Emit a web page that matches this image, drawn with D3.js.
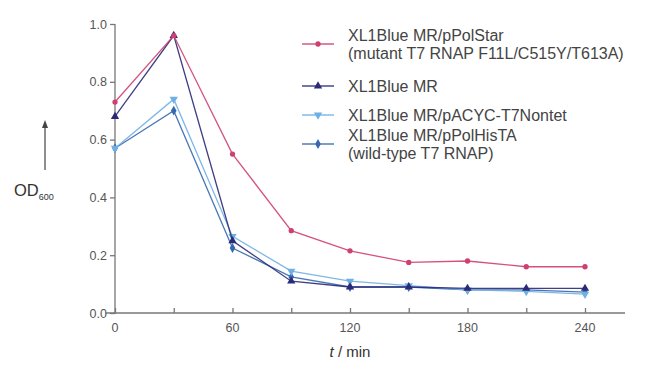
<!DOCTYPE html>
<html>
<head>
<meta charset="utf-8">
<script src="https://cdn.jsdelivr.net/npm/d3@7"></script>
<style>
  body { margin: 0; background: #fff; }
  text { font-family: "Liberation Sans", Arial, sans-serif; }
</style>
</head>
<body>
<div class="chart"></div>
<script>
const width = 645;
const height = 365;

// data
const times = [0, 30, 60, 90, 120, 150, 180, 210, 240];
const polStar = [0.73, 0.96, 0.55, 0.285, 0.215, 0.175, 0.18, 0.16, 0.16];
const blueMR = [0.68, 0.96, 0.25, 0.11, 0.09, 0.09, 0.085, 0.085, 0.085];
const acyc = [0.57, 0.74, 0.265, 0.145, 0.11, 0.095, 0.08, 0.075, 0.065];
const hisTA = [0.57, 0.70, 0.225, 0.125, 0.09, 0.09, 0.08, 0.08, 0.072];
const xTicks = [0, 30, 60, 90, 120, 150, 180, 210, 240];
const xLabels = [0, 60, 120, 180, 240];
const yTicks = [0, 0.2, 0.4, 0.6, 0.8, 1.0];

const series = [
  { name: ['XL1Blue MR/pPolStar', '(mutant T7 RNAP F11L/C515Y/T613A)'], values: polStar, color: '#cf3f6f', symbol: d3.symbolCircle, size: 22, rot: 0 },
  { name: ['XL1Blue MR'], values: blueMR, color: '#2b2a78', symbol: d3.symbolTriangle, size: 30, rot: 0 },
  { name: ['XL1Blue MR/pACYC-T7Nontet'], values: acyc, color: '#6fb0e4', symbol: d3.symbolTriangle, size: 30, rot: 180 },
  { name: ['XL1Blue MR/pPolHisTA', '(wild-type T7 RNAP)'], values: hisTA, color: '#3568ad', symbol: d3.symbolDiamond, size: 28, rot: 0 }
];

const svg = d3.select('.chart').append('svg')
  .attr('width', width)
  .attr('height', height);

const x = d3.scaleLinear().domain([0, 240]).range([115, 585]);
const y = d3.scaleLinear().domain([0, 1]).range([313, 24]);

const axisColor = '#777';
const labelColor = '#555';

// y axis
const yAxis = svg.append('g')
  .attr('transform', `translate(${x(0)},0)`)
  .call(d3.axisLeft(y).tickValues(yTicks).tickFormat(d3.format('.1f')).tickSize(5).tickPadding(3));
yAxis.select('.domain').attr('d', `M0,${y(0) + 1}V${y(1)}`);

// x axis, ticks point inward
const xAxis = svg.append('g')
  .attr('transform', `translate(0,${y(0)})`)
  .call(d3.axisTop(x).tickValues(xTicks).tickFormat('').tickSize(5));
xAxis.select('.domain').attr('d', `M${x(0) - 10},0H625`);

svg.append('g')
  .attr('transform', `translate(0,${y(0)})`)
  .selectAll('text')
  .data(xLabels)
  .join('text')
  .attr('x', d => x(d))
  .attr('y', 19)
  .attr('text-anchor', 'middle')
  .attr('font-size', 12.5)
  .attr('fill', labelColor)
  .text(d => d);

svg.selectAll('.domain, .tick line').attr('stroke', axisColor).attr('stroke-width', 1.3);
svg.selectAll('.tick text').attr('font-size', 12.5).attr('fill', labelColor);

// axis titles
const xt = svg.append('text')
  .attr('x', 350).attr('y', 357)
  .attr('text-anchor', 'middle')
  .attr('font-size', 15)
  .attr('fill', '#333');
xt.append('tspan').attr('font-style', 'italic').text('t');
xt.append('tspan').text(' / min');

const yt = svg.append('text')
  .attr('x', 14).attr('y', 196)
  .attr('font-size', 16.5)
  .attr('fill', '#333');
yt.append('tspan').text('OD');
yt.append('tspan').attr('font-size', 9).attr('dy', 4).text('600');

svg.append('line')
  .attr('x1', 45).attr('x2', 45).attr('y1', 170).attr('y2', 126)
  .attr('stroke', '#444').attr('stroke-width', 1.2);
svg.append('path')
  .attr('d', 'M42,128L45,120L48,128Z')
  .attr('fill', '#444');

// lines and markers
const line = d3.line().x((d, i) => x(times[i])).y(d => y(d));

series.slice().reverse().forEach(s => {
  svg.append('path')
    .attr('d', line(s.values))
    .attr('fill', 'none')
    .attr('stroke', s.color)
    .attr('stroke-width', 1.3)
    .attr('opacity', 0.9);
  svg.append('g').selectAll('path')
    .data(s.values)
    .join('path')
    .attr('transform', (d, i) => `translate(${x(times[i])},${y(d)}) rotate(${s.rot})`)
    .attr('d', d3.symbol().type(s.symbol).size(s.size))
    .attr('fill', s.color);
});

// legend
const legendRows = [44, 86, 115, 144];
const legend = svg.append('g');
series.forEach((s, i) => {
  const g = legend.append('g').attr('transform', `translate(0,${legendRows[i]})`);
  g.append('line')
    .attr('x1', 302).attr('x2', 334)
    .attr('stroke', s.color).attr('stroke-width', 1.3);
  g.append('path')
    .attr('transform', `translate(318,0) rotate(${s.rot})`)
    .attr('d', d3.symbol().type(s.symbol).size(s.size))
    .attr('fill', s.color);
  const t = g.append('text')
    .attr('x', 348)
    .attr('font-size', 16)
    .attr('fill', '#444');
  const offs = s.name.length === 2 ? [-3, 15] : [5.5];
  s.name.forEach((n, k) => {
    t.append('tspan').attr('x', 348).attr('y', offs[k]).text(n);
  });
});
</script>
</body>
</html>
